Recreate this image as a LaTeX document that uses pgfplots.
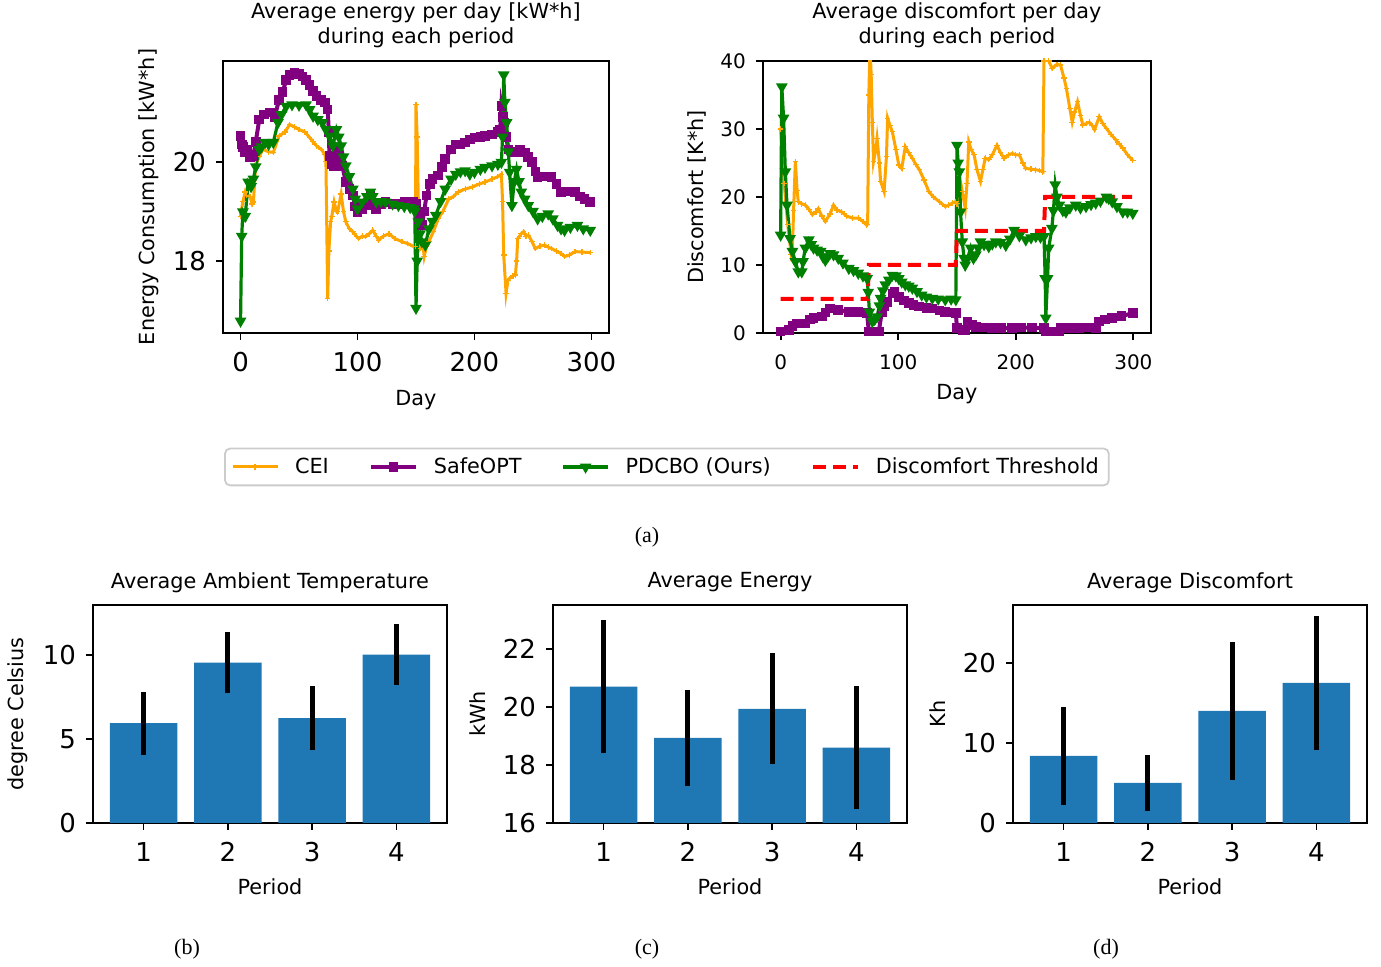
\documentclass[border=0pt]{standalone}
\usepackage{fontspec}
\setmainfont{DejaVu Sans}
\newfontfamily\capfont{Liberation Serif}
\usepackage{pgfplots}
\pgfplotsset{compat=1.18}
\definecolor{cOrange}{HTML}{FFA500}
\definecolor{cPurple}{HTML}{800080}
\definecolor{cGreen}{HTML}{008000}
\definecolor{cBlue}{HTML}{1F77B4}
\newcommand\lab{\fontsize{10.4}{12.6}\selectfont}
\pgfplotsset{
  mpl/.style={
    scale only axis,
    anchor=south west,
    axis line style={line width=0.9pt, black},
    every tick/.style={line width=0.9pt, black},
    major tick length=3.5pt,
    tick align=outside,
    xtick pos=left, ytick pos=left,
    /pgf/number format/assume math mode=true,
    ticklabel style={font=\fontsize{13}{15}\selectfont},
    xticklabel style={yshift=-2.8pt},
    yticklabel style={xshift=-1.5pt},
    label style={font=\lab},
    every axis title/.style={font=\lab, align=center, anchor=center},
    every axis y label/.style={rotate=90, anchor=center, font=\lab},
    every axis x label/.style={anchor=center, font=\lab},
  },
  CEI/.style={color=cOrange, line width=1.5pt, mark=+, mark size=1.4pt, mark options={line width=0.6pt}},
  SOPT/.style={color=cPurple, line width=2pt, mark=square*, mark size=1.4pt},
  PDC/.style={color=cGreen, line width=1.6pt, mark=triangle*, mark size=1.8pt, mark options={rotate=180}},
  barstyle/.style={ybar, bar width=0.8, fill=cBlue, draw=none, mark=none,
    error bars/.cd, y dir=both, y explicit, error mark=none,
    error bar style={line width=2.5pt, black}},
  bax/.style={mpl, width=177pt, height=109pt, xmin=0.4, xmax=4.6, xtick={1,2,3,4},
    xlabel={Period}, xlabel style={at={(axis description cs:0.5,-0.294)}},
    ylabel style={at={(axis description cs:-0.212,0.5)}},
    title style={at={(axis description cs:0.5,1.103)}}},
}
\begin{document}
\begin{tikzpicture}
\useasboundingbox (0,0) rectangle (690.5pt,483.5pt);
% ---------- top left ----------
\begin{axis}[mpl, at={(111.5pt,317pt)}, width=193pt, height=136pt,
  xmin=-15, xmax=315, ymin=16.55, ymax=22.03,
  xtick={0,100,200,300}, ytick={18,20},
  xlabel={Day}, ylabel={Energy Consumption [kW*h]},
  xlabel style={at={(axis description cs:0.5,-0.245)}},
  ylabel style={at={(axis description cs:-0.192,0.5)}},
  title={Average energy per day [kW*h]\\during each period},
  title style={at={(axis description cs:0.5,1.132)}},
  legend columns=4,
  legend style={at={(axis description cs:1.150,-0.4926)}, anchor=center,
    draw=black!20, line width=0.9pt, rounded corners=2.5pt, font=\lab,
    inner xsep=3pt, inner ysep=2.5pt,
    /tikz/every odd column/.append style={column sep=6pt},
    /tikz/every even column/.append style={column sep=18pt}},
  legend image code/.code={\draw[mark repeat=2, mark phase=2] plot coordinates {(0pt,0pt) (11.25pt,0pt) (22.5pt,0pt)};},
]
\addplot[CEI] coordinates {(0,18.9)(2,19.2)(4,19.39)(5,19.32)(8,19.3)(10,19.15)(11,19.19)(13,19.95)(16,20.1)(19,20.25)(24,20.2)(28,20.19)(33,20.52)(38,20.6)(42,20.75)(46,20.7)(50,20.65)(55,20.6)(59,20.49)(62,20.4)(65,20.32)(69,20.25)(72,20.15)(73,20.0)(74.5,17.25)(75.5,18.2)(77,18.79)(78,18.9)(80,19.19)(82,19.0)(83,18.99)(86,19.35)(88,19.0)(90,18.79)(93,18.65)(96,18.59)(99,18.5)(101,18.45)(104,18.5)(107,18.49)(110,18.55)(113,18.62)(116,18.5)(118,18.42)(122,18.5)(127,18.55)(132,18.45)(138,18.39)(143,18.35)(148,18.29)(149.5,18.3)(150,21.15)(151,20.5)(152,19.19)(153,18.6)(154,18.25)(156,18.3)(157,18.09)(159,18.3)(161,18.39)(165,18.6)(169,18.85)(173,19.0)(178,19.25)(182,19.3)(186,19.39)(192,19.45)(198,19.49)(204,19.55)(209,19.59)(215,19.65)(220,19.7)(223,19.75)(224,19.2)(225,18.12)(227,17.35)(228.5,17.6)(230,17.65)(233,17.7)(235,17.72)(236,18.0)(237,18.45)(240,18.55)(242,18.59)(244,18.5)(246,18.52)(249,18.4)(252,18.25)(256,18.3)(260,18.32)(263,18.28)(266,18.25)(270,18.2)(274,18.15)(277,18.09)(281,18.12)(286,18.19)(292,18.18)(299,18.17)};
\addlegendentry{CEI}
\addplot[SOPT] coordinates {(0,20.52)(1,20.35)(2,20.3)(4,20.2)(6,20.25)(8,20.1)(10,20.15)(11,20.12)(13,20.4)(16,20.85)(20,20.95)(25,20.99)(29,20.89)(33,21.25)(36,21.4)(39,21.65)(42,21.75)(46,21.79)(50,21.77)(53,21.72)(56,21.65)(59,21.55)(62,21.42)(65,21.32)(69,21.25)(72,21.19)(74.5,21.05)(75.5,20.6)(76,20.12)(78,19.95)(80,19.92)(82,20.25)(84,20.12)(87,19.92)(90,19.59)(93,19.45)(96,19.32)(98,19.1)(100,18.99)(104,19.05)(107,19.12)(111,19.32)(114,19.15)(116,19.05)(120,19.15)(124,19.19)(130,19.15)(135,19.15)(140,19.2)(144,19.19)(148,19.2)(150,19.15)(152,18.85)(155,18.72)(157,19.0)(159,19.32)(162,19.55)(164,19.65)(169,19.72)(172,19.9)(175,20.05)(180,20.25)(184,20.35)(188,20.35)(192,20.39)(196,20.45)(200,20.49)(205,20.5)(209,20.52)(215,20.55)(220,20.6)(222,20.65)(223,21.12)(224.5,20.9)(225,20.79)(227,20.5)(229,20.25)(232,20.2)(235,20.19)(239,20.25)(243,20.19)(246,20.1)(249,19.99)(252,19.8)(254,19.69)(260,19.7)(266,19.69)(270,19.55)(274,19.39)(280,19.4)(286,19.39)(290,19.3)(294,19.25)(299,19.19)};
\addlegendentry{SafeOPT}
\addplot[PDC] coordinates {(0,16.79)(1,18.5)(2,18.99)(4,18.9)(6.5,19.59)(9,19.5)(11,19.65)(13,19.9)(16,20.25)(18,20.3)(21,20.39)(24,20.35)(28,20.39)(32,20.79)(35,20.95)(39,21.12)(44,21.15)(50,21.14)(56,21.15)(59,21.05)(62,20.92)(66,20.85)(70,20.79)(73,20.65)(76,20.52)(79,20.32)(82,20.65)(84,20.5)(86,20.32)(88,20.1)(90,19.92)(93,19.7)(96,19.45)(98,19.25)(100,19.05)(104,19.19)(108,19.3)(111,19.39)(113,19.3)(116,19.19)(120,19.2)(124,19.19)(130,19.15)(135,19.12)(140,19.1)(145,19.08)(148,19.05)(149,19.0)(150,17.05)(151,18.0)(152,18.79)(153.5,18.55)(155,18.39)(158,18.32)(161,18.65)(164,18.8)(167,18.92)(171,19.2)(175,19.45)(180,19.65)(184,19.75)(188,19.8)(192,19.82)(196,19.75)(200,19.79)(205,19.85)(209,19.89)(215,19.92)(220,19.95)(223,19.99)(224,20.5)(225,21.75)(226,21.2)(227.5,20.79)(229,20.2)(230,19.79)(232,19.12)(234,19.6)(236,19.85)(238,19.6)(240,19.39)(243,19.25)(246,19.12)(250,19.0)(254,18.85)(258,18.9)(263,18.95)(267,18.85)(271,18.72)(274,18.65)(277,18.62)(282,18.68)(288,18.72)(293,18.65)(299,18.62)};
\addlegendentry{PDCBO (Ours)}
\addlegendimage{color=red, dash pattern=on 6.5pt off 3.5pt, line width=2pt, mark=none}
\addlegendentry{Discomfort Threshold}
\end{axis}
% ---------- top right ----------
\begin{axis}[mpl, at={(381.5pt,317pt)}, width=194pt, height=136pt,
  xmin=-15, xmax=315, ymin=0, ymax=40,
  xtick={0,100,200,300}, ytick={0,10,20,30,40},
  ticklabel style={font=\fontsize{10}{12}\selectfont},
  xticklabel style={yshift=-1.2pt},
  xlabel={Day}, ylabel={Discomfort [K*h]},
  xlabel style={at={(axis description cs:0.5,-0.223)}},
  ylabel style={at={(axis description cs:-0.170,0.5)}},
  title={Average discomfort per day\\during each period},
  title style={at={(axis description cs:0.5,1.132)}},
]
\addplot[CEI] coordinates {(0,30)(3,22)(6,16)(9,11.5)(10,12)(11,18)(12.5,25.2)(14,21)(15,19.3)(18,19.0)(21,18.8)(24,18.2)(27,17.4)(30,17.8)(32,18.3)(35,17.2)(38,16.4)(42,17.5)(45,18.8)(48,18.1)(52,17.8)(56,17.2)(61,16.9)(66,16.9)(70,16.4)(73,15.9)(74,16.0)(75,35)(76,42)(77,38)(78,31)(79,25.2)(81,27)(82,28.6)(84,25)(85,22.3)(88,20.8)(90,26)(91,31.6)(93,30.5)(95,29.6)(98,27)(100.5,24.7)(103,24.2)(106,27.4)(109,26.5)(112,25.7)(115,24.8)(118,24)(122,22.5)(126,20.8)(130,20)(135,19.3)(140,18.6)(143,18.8)(146,19.1)(149,19.3)(150,19.0)(152,23.2)(154.5,20.8)(157,18.3)(158.5,22)(160,28.1)(162,27)(164.5,26.2)(167,24)(170,22.3)(172,24)(174,25.7)(177,25.5)(180,26.2)(184,27.6)(187,26.5)(190,25.7)(194,26.2)(197,26.4)(200,26.2)(203,26.2)(206,25)(208.5,24.2)(213,24.1)(217,24)(220,23.9)(223,23.7)(224,40)(225.5,44)(228,40)(231,38.9)(235,39.5)(238,39.4)(241,37.5)(243,36)(246,33)(248,31)(250,32.5)(252.5,34)(255,32)(257,30.6)(260,30.8)(262.5,31)(265,30.5)(267,29.9)(271,31.8)(274,30.8)(277,30.1)(281,29.2)(285,28.4)(288,27.8)(291,27.2)(295,26.2)(299.5,25.4)};
\addplot[SOPT] coordinates {(0,0.2)(7,0.4)(10,1.0)(14,1.4)(21,1.4)(25,2.0)(28,2.2)(35,2.4)(38,3.0)(42,3.6)(49,3.4)(58,3.1)(66,3.1)(73.5,2.9)(75,0.2)(83.5,0.2)(86,3.1)(88,4.0)(90.6,4.6)(95,5.8)(97,6.0)(100.5,5.3)(105,4.8)(109,4.4)(113,4.1)(117.6,3.9)(124,3.7)(129,3.6)(135,3.3)(140,3.1)(145,3.0)(149,2.9)(150,0.7)(155,0.4)(157,0.4)(159,1.7)(163,1.2)(166,0.9)(172,0.8)(180,0.7)(188,0.7)(197,0.7)(205,0.8)(214,0.8)(224,0.7)(225.5,0.2)(231,0.2)(237,0.2)(238,0.7)(246,0.7)(254,0.7)(262,0.8)(268,0.7)(271,1.7)(276,2.0)(282,2.2)(290,2.5)(299.5,2.9)};
\addplot[PDC] coordinates {(0,14.4)(1,36.2)(2.5,31.6)(4,23.7)(5.4,18.8)(8,13.9)(10,12)(12.5,10.5)(15,9)(18,9)(19,10.5)(21,12.5)(24,13.7)(26,13)(28,12.5)(31,12.2)(34,12)(36,11.2)(38,10.7)(40,11.2)(42,11.7)(45,11.5)(49,11)(53,10.3)(58,9.5)(62,9.2)(66,8.8)(70,8.4)(73.5,8)(74.5,6)(75.5,3.1)(78,1.7)(80,2.0)(82,2.4)(84,4)(85,5.1)(87,6.2)(89,7.1)(92,7.8)(95,8.5)(98,8.4)(100.5,8)(103,7.5)(106,7.1)(109,6.9)(112,6.6)(116,6.1)(120,5.6)(124,5.3)(129,5.1)(134,5.0)(140,4.9)(145,5.0)(149,4.9)(150,27.6)(151,25)(152,23.7)(153,17.8)(154.5,13.4)(156,11)(157,10)(159,11)(161.6,12.5)(164,11)(166,11.5)(168,12.5)(170,13.4)(173,13.0)(177,12.7)(180,13.1)(183,13.4)(187,13.3)(191.5,12.9)(195,13.8)(198.6,15.1)(203,14.3)(208.5,13.7)(213,14.0)(217,14.2)(221,14.1)(224,14.2)(225,8)(225.5,2.2)(227,8)(228,12.5)(230.7,15.4)(232,18)(233.5,21.8)(235,20)(237,18.8)(240,18.0)(242.6,17.8)(246,18.4)(251,18.8)(255,18.4)(259.7,18.6)(264,18.9)(268,19.1)(272,19.4)(277,20)(279,19.8)(282,19.3)(286,18.6)(291,17.8)(295,17.8)(299.5,17.6)};
\addplot[color=red, dash pattern=on 6.5pt off 3.5pt, line width=2pt, mark=none] coordinates {(0,5)(74,5)(75,10)(149,10)(150,15)(224,15)(225,20)(299,20)};
\end{axis}
% ---------- bottom (b) ----------
\begin{axis}[bax, at={(46.5pt,72pt)}, ymin=0, ymax=12.95, ytick={0,5,10},
  ylabel={degree Celsius}, title={Average Ambient Temperature}]
\addplot[barstyle] coordinates {(1,5.93) +- (0,1.87) (2,9.52) +- (0,1.82) (3,6.23) +- (0,1.92) (4,10.0) +- (0,1.8)};
\end{axis}
% ---------- bottom (c) ----------
\begin{axis}[bax, at={(276.5pt,72pt)}, ymin=16, ymax=23.5, ytick={16,18,20,22},
  ylabel={kWh}, title={Average Energy}]
\addplot[barstyle] coordinates {(1,20.69) +- (0,2.29) (2,18.93) +- (0,1.65) (3,19.93) +- (0,1.91) (4,18.59) +- (0,2.11)};
\end{axis}
% ---------- bottom (d) ----------
\begin{axis}[bax, at={(506.5pt,72pt)}, ymin=0, ymax=27.25, ytick={0,10,20},
  ylabel={Kh}, title={Average Discomfort}]
\addplot[barstyle] coordinates {(1,8.38) +- (0,6.17) (2,5.0) +- (0,3.5) (3,14.0) +- (0,8.67) (4,17.5) +- (0,8.4)};
\end{axis}
% ---------- captions ----------
\node[font=\capfont\fontsize{11}{13}\selectfont] at (323.5pt,215pt) {(a)};
\node[font=\capfont\fontsize{11}{13}\selectfont] at (93.5pt,8.8pt) {(b)};
\node[font=\capfont\fontsize{11}{13}\selectfont] at (323.5pt,8.8pt) {(c)};
\node[font=\capfont\fontsize{11}{13}\selectfont] at (553pt,8.8pt) {(d)};
\end{tikzpicture}
\end{document}
